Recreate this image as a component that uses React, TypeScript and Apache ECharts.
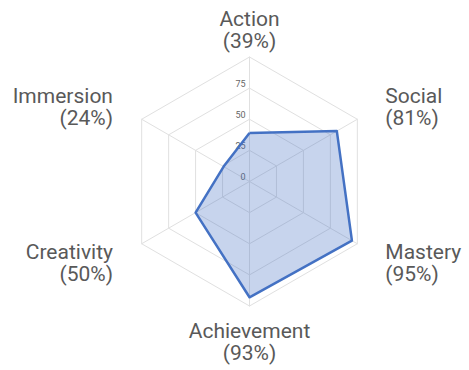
import React, { useEffect, useRef } from "react";
import * as echarts from "echarts";

// Clockwise order starting from the top
const categories = ["Action", "Social", "Mastery", "Achievement", "Creativity", "Immersion"];
const values = [39, 81, 95, 93, 50, 24];
const axisMax = 100;
const axisInterval = 25;

const CX = 249.5;
const CY = 181.5;
const R = 124.5;
const LABEL_FONT = "Roboto, 'Noto Sans', sans-serif";

export default function App() {
  const ref = useRef<HTMLDivElement>(null);
  useEffect(() => {
    document.body.style.margin = "0";
    if (!ref.current) return;
    const chart = echarts.init(ref.current, null, { renderer: "svg" });
    const n = categories.length;
    // ECharts radar runs counter-clockwise: reorder so the picture reads clockwise
    const order = categories.map((_, i) => (n - i) % n);
    const ccwNames = order.map((i) => categories[i]);
    const ccwValues = order.map((i) => values[i]);

    const labels = categories.map((name, i) => {
      const ang = ((90 - (360 / n) * i) * Math.PI) / 180;
      const vx = CX + R * Math.cos(ang);
      const vy = CY - R * Math.sin(ang);
      const c = Math.cos(ang);
      const s = Math.sin(ang);
      let x = vx;
      let y = vy;
      let align = "center";
      let verticalAlign = "top";
      if (Math.abs(c) < 0.01) {
        if (s > 0) {
          y = vy - 5;
          verticalAlign = "bottom";
        } else {
          y = vy + 14;
          verticalAlign = "top";
        }
      } else {
        x = c > 0 ? vx + 28 : vx - 28.7;
        align = c > 0 ? "left" : "right";
        y = s > 0 ? vy - 34.5 : vy - 2.5;
        verticalAlign = "top";
      }
      return {
        type: "text",
        x,
        y,
        silent: true,
        style: {
          text: `${name}\n(${values[i]}%)`,
          fill: "#595959",
          fontSize: 21,
          fontFamily: LABEL_FONT,
          lineHeight: 22,
          align,
          verticalAlign,
        },
      };
    });

    chart.setOption({
      animation: false,
      radar: {
        center: [CX, CY],
        radius: R,
        startAngle: 90,
        splitNumber: axisMax / axisInterval,
        shape: "polygon",
        axisName: { show: false },
        splitArea: { show: false },
        splitLine: { lineStyle: { color: "#e0e0e0", width: 1 } },
        axisLine: { lineStyle: { color: "#e0e0e0", width: 1 } },
        axisTick: { show: false },
        indicator: ccwNames.map((name, i) => ({
          name,
          min: 0,
          max: axisMax,
          ...(i === 0
            ? {
                axisLabel: {
                  show: true,
                  color: "#666666",
                  fontSize: 9,
                  fontFamily: LABEL_FONT,
                  margin: 4,
                  verticalAlign: "bottom",
                  formatter: (v: number) => (v >= axisMax ? "" : String(v)),
                },
              }
            : {}),
        })),
      },
      series: [
        {
          type: "radar",
          symbol: "none",
          lineStyle: { color: "#4472C4", width: 2.5 },
          areaStyle: { color: "#4472C4", opacity: 0.3 },
          data: [{ value: ccwValues, name: "Score" }],
        },
      ],
      graphic: labels,
    });
    return () => chart.dispose();
  }, []);
  return <div ref={ref} style={{ width: 469, height: 370 }} />;
}
